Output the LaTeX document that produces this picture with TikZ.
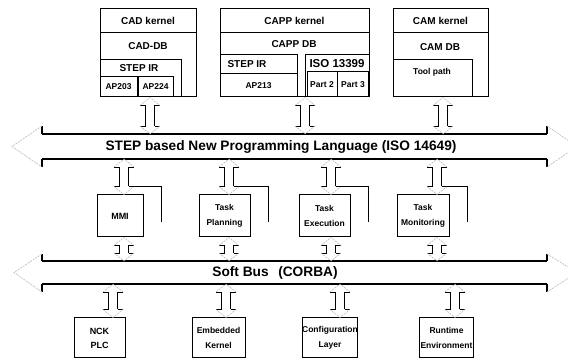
\documentclass[tikz,border=0pt]{standalone}
\usepackage{fontspec}
\setmainfont{Liberation Sans}
\usetikzlibrary{calc}

% hollow vertical double arrow at abscissa #1, from the y of #2 down to the y of #3
\newcommand\vdarrow[3]{%
  \draw[shaft] let \p1=(#1,0 |- #2), \p2=(#1,0 |- #3) in
    ({\x1-4.5pt},{\y1-8pt}) -- ({\x1-4.5pt},{\y2+8pt})
    ({\x1+4.5pt},{\y1-8pt}) -- ({\x1+4.5pt},{\y2+8pt})
    ({\x1-10pt},{\y1-8pt}) -- ({\x1-4.5pt},{\y1-8pt})
    ({\x1+4.5pt},{\y1-8pt}) -- ({\x1+10pt},{\y1-8pt})
    ({\x1-10pt},{\y2+8pt}) -- ({\x1-4.5pt},{\y2+8pt})
    ({\x1+4.5pt},{\y2+8pt}) -- ({\x1+10pt},{\y2+8pt});
  \draw[tip] let \p1=(#1,0 |- #2), \p2=(#1,0 |- #3) in
    ({\x1-10pt},{\y1-8pt}) -- (\x1,\y1) -- ({\x1+10pt},{\y1-8pt})
    ({\x1-10pt},{\y2+8pt}) -- (\x1,\y2) -- ({\x1+10pt},{\y2+8pt});
}

\begin{document}
\begin{tikzpicture}[x=1pt,y=-1pt,
  shaft/.style={line width=0.9pt},
  tip/.style={line width=0.6pt, gray!55, dash pattern=on 2pt off 1pt},
  busline/.style={line width=1.1pt},
  cell/.style={draw, line width=1pt, inner sep=0pt},
  txt/.style={inner sep=0pt},
  fA/.style={font=\bfseries\fontsize{10}{11}\selectfont},
  fB/.style={font=\bfseries\fontsize{8.5}{10}\selectfont},
  fC/.style={font=\bfseries\fontsize{8.5}{15}\selectfont, align=center},
  fBus/.style={font=\bfseries\fontsize{13.7}{15}\selectfont}]

\clip (0,0) rectangle (568,363);
\fill[white] (0,0) rectangle (568,363);

% ---------- CAD column ----------
\node[cell, minimum width=96, minimum height=88] (cad) at (148,53) {};
\node[cell, fA, minimum width=96, minimum height=24] (cadk) at (148,21) {CAD kernel};
\node[txt, fA] (caddb) at (148,46.5) {CAD-DB};
\node[cell, minimum width=81, minimum height=37] (cadir) at (140.5,78.5) {};
\node[txt, fA] (cadirt) at (139,68) {STEP IR};
\node[cell, fB, minimum width=37, minimum height=20] (ap203) at (118.5,87) {AP203};
\node[cell, fB, minimum width=35, minimum height=20] (ap224) at (155.5,87) {AP224};

% ---------- CAPP column ----------
\node[cell, minimum width=149, minimum height=88] (capp) at (294.5,53) {};
\node[cell, fA, minimum width=149, minimum height=24] (cappk) at (294.5,21) {CAPP kernel};
\node[txt, fA] (cappdb) at (294,44) {CAPP DB};
\node[cell, minimum width=77, minimum height=42] (cappir) at (258.5,76) {};
\node[txt, fA] (cappirt) at (247,64) {STEP IR};
\node[cell, fB, minimum width=77, minimum height=23] (ap213) at (258.5,85.5) {AP213};
\node[cell, minimum width=64, minimum height=42] (iso) at (337,76) {};
\node[txt, font=\bfseries\fontsize{11.5}{12}\selectfont] (isot) at (337,63.5) {ISO 13399};
\node[cell, fB, minimum width=30, minimum height=25] (part2) at (322,84.5) {Part 2};
\node[cell, fB, minimum width=31, minimum height=25] (part3) at (353,84.5) {Part 3};

% ---------- CAM column ----------
\node[cell, minimum width=95, minimum height=88] (cam) at (440.5,53) {};
\node[cell, fA, minimum width=95, minimum height=24] (camk) at (440.5,21) {CAM kernel};
\node[txt, fA] (camdb) at (440,47.5) {CAM DB};
\node[cell, minimum width=79, minimum height=37] (tool) at (432.5,78.5) {};
\node[txt, fB] (toolt) at (432,72) {Tool path};

% ---------- STEP bus (ISO 14649) ----------
\coordinate (stepT) at (0,134);
\coordinate (stepB) at (0,159);
\draw[busline] (42,134) -- (547,134) (42,159) -- (547,159)
  (42,126) -- (42,134) (42,159) -- (42,167)
  (547,126) -- (547,134) (547,159) -- (547,167);
\draw[tip] (42,126) -- (12,146.5) -- (42,167) (547,126) -- (577,146.5) -- (547,167);
\node[txt, fBus] (steplbl) at (281,146.5) {STEP based New Programming Language (ISO 14649)};

% ---------- function modules ----------
\node[cell, minimum width=46, minimum height=42, font=\bfseries\fontsize{9}{10}\selectfont] (mmi) at (120,216) {MMI};
\node[cell, fC, minimum width=51, minimum height=42] (plan) at (224.5,216) {Task\\Planning};
\node[cell, fC, minimum width=51, minimum height=42] (exec) at (324.5,216) {Task\\Execution};
\node[cell, fC, minimum width=52, minimum height=42] (moni) at (423,216) {Task\\Monitoring};

% ---------- Soft bus (CORBA) ----------
\coordinate (softT) at (0,261);
\coordinate (softB) at (0,284);
\draw[busline] (42,261) -- (547,261) (42,284) -- (547,284)
  (42,254) -- (42,261) (42,284) -- (42,292)
  (547,254) -- (547,261) (547,284) -- (547,292);
\draw[tip] (42,254) -- (14,272.5) -- (42,292) (547,254) -- (577,272.5) -- (547,292);
\node[txt, fBus] (softlbl) at (275,272.5) {Soft Bus\hspace{0.7em}(CORBA)};

% ---------- runtime modules ----------
\node[cell, fC, font=\bfseries\fontsize{9}{14}\selectfont, minimum width=51, minimum height=40] (nck) at (99.5,338) {NCK\\PLC};
\node[cell, fC, minimum width=53, minimum height=40] (emb) at (218.5,338) {Embedded\\Kernel};
\node[cell, fC, minimum width=54, minimum height=40] (conf) at (330,338) {Configuration\\Layer};
\node[cell, fC, minimum width=54, minimum height=40] (run) at (446.5,338) {Runtime\\Environment};

% ---------- hollow connectors ----------
\vdarrow{150}{cad.south}{stepT}
\vdarrow{305}{capp.south}{stepT}
\vdarrow{443}{cam.south}{stepT}

\vdarrow{124}{stepB}{mmi.north}
\vdarrow{229}{stepB}{plan.north}
\vdarrow{331}{stepB}{exec.north}
\vdarrow{437}{stepB}{moni.north}

\vdarrow{124}{mmi.south}{softT}
\vdarrow{229}{plan.south}{softT}
\vdarrow{331}{exec.south}{softT}
\vdarrow{437}{moni.south}{softT}

\vdarrow{113}{softB}{nck.north}
\vdarrow{226}{softB}{emb.north}
\vdarrow{340}{softB}{conf.north}
\vdarrow{455}{softB}{run.north}

% ---------- return lines beside the function modules ----------
\coordinate (mmiR) at ($(mmi.east)+(18,6)$);
\coordinate (planR) at ($(plan.east)+(18,6)$);
\coordinate (execR) at ($(exec.east)+(18,6)$);
\coordinate (moniR) at ($(moni.east)+(18,6)$);
\draw[shaft] ([xshift=4.5pt,yshift=8pt]124,0 |- mmi.north) -| (mmiR);
\draw[shaft] ([xshift=4.5pt,yshift=8pt]229,0 |- plan.north) -| (planR);
\draw[shaft] ([xshift=4.5pt,yshift=8pt]331,0 |- exec.north) -| (execR);
\draw[shaft] ([xshift=4.5pt,yshift=8pt]437,0 |- moni.north) -| (moniR);

\end{tikzpicture}
\end{document}
